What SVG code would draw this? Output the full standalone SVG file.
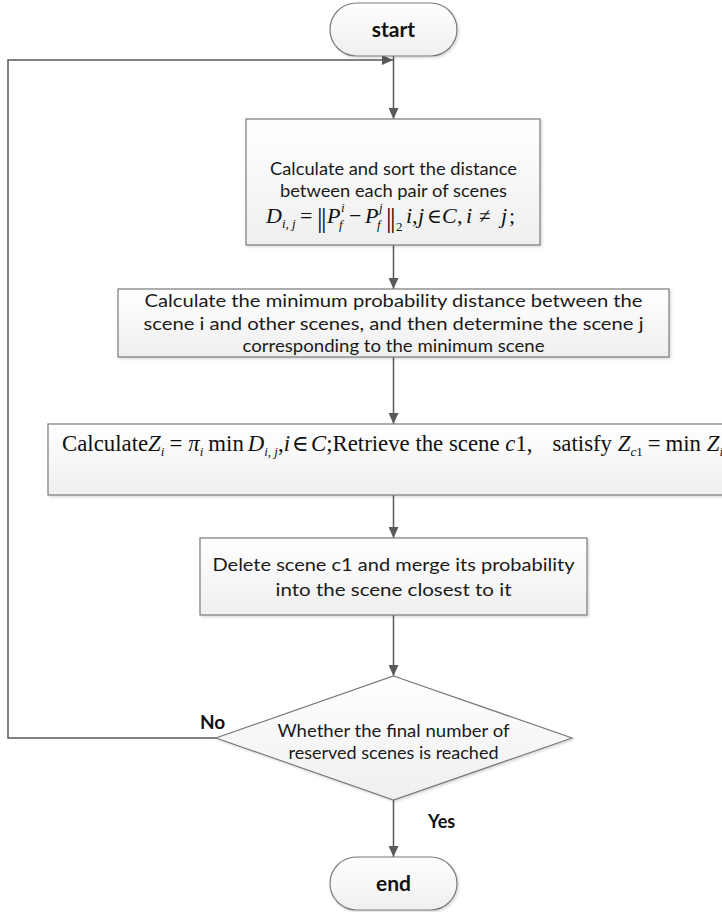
<svg xmlns="http://www.w3.org/2000/svg" width="722" height="912" viewBox="0 0 722 912">
<defs>
<linearGradient id="g" x1="0" y1="0" x2="0" y2="1"><stop offset="0" stop-color="#ffffff"/><stop offset="1" stop-color="#efefef"/></linearGradient>
<marker id="ah" markerWidth="12" markerHeight="10" refX="11" refY="5" orient="auto" markerUnits="userSpaceOnUse"><path d="M0,0 L11,5 L0,10 Z" fill="#595959"/></marker>
<filter id="sh" x="-5%" y="-5%" width="110%" height="120%"><feDropShadow dx="1.5" dy="1.5" stdDeviation="1" flood-color="#000" flood-opacity="0.15"/></filter>
</defs>
<style>
.box{fill:url(#g);stroke:#7a7a7a;stroke-width:1.2;filter:url(#sh)}
.t{font-family:Lato,"Open Sans","Liberation Sans",sans-serif;font-size:18px;fill:#1a1a1a;text-anchor:middle}
.b{font-family:Lato,"Liberation Sans",sans-serif;font-weight:bold;fill:#111}
.m{font-family:"Liberation Serif","Times New Roman","DejaVu Serif",serif;fill:#111}
.i{font-style:italic}
.c{fill:none;stroke:#595959;stroke-width:1.5}
</style>
<g id="connectors">
<path class="c" d="M393.5,56 V119" marker-end="url(#ah)"/>
<path class="c" d="M216,738 H8 V60 H393" marker-end="url(#ah)"/>
<path class="c" d="M393.5,245 V289" marker-end="url(#ah)"/>
<path class="c" d="M393.5,357 V424" marker-end="url(#ah)"/>
<path class="c" d="M393.5,495 V538" marker-end="url(#ah)"/>
<path class="c" d="M393.5,615 V676" marker-end="url(#ah)"/>
<path class="c" d="M393.5,800 V857" marker-end="url(#ah)"/>
<text class="b" x="200" y="729" font-size="19">No</text>
<text class="b" x="428" y="828" font-size="18">Yes</text>
</g>
<g id="start">
<rect class="box" x="330" y="3" width="127" height="53" rx="26.5"/>
<text class="b" x="393.5" y="37" font-size="21" text-anchor="middle">start</text>
</g>
<g id="box1">
<rect class="box" x="246" y="119" width="294" height="126"/>
<text class="t" x="393.5" y="175" textLength="247" lengthAdjust="spacingAndGlyphs">Calculate and sort the distance</text>
<text class="t" x="393.5" y="197" textLength="227" lengthAdjust="spacingAndGlyphs">between each pair of scenes</text>
<g class="m">
<text x="266" y="223" font-size="22" class="i">D</text>
<text x="282" y="228" font-size="13" class="i">i, j</text>
<text x="300" y="223" font-size="22">=</text>
<text x="317" y="227" font-size="28" letter-spacing="-1.5">||</text>
<text x="327" y="223" font-size="22" class="i">P</text>
<text x="339" y="229" font-size="13" class="i">f</text>
<text x="341" y="212" font-size="13" class="i">i</text>
<text x="349" y="223" font-size="22">−</text>
<text x="365" y="223" font-size="22" class="i">P</text>
<text x="377" y="229" font-size="13" class="i">f</text>
<text x="379" y="212" font-size="13" class="i">j</text>
<text x="386" y="227" font-size="28" letter-spacing="-1.5">||</text>
<text x="396" y="231" font-size="13">2</text>
<text x="406" y="223" font-size="22" class="i">i,</text>
<text x="418" y="223" font-size="22" class="i">j</text>
<text x="427" y="223" font-size="20">∈</text>
<text x="442" y="223" font-size="22" class="i">C</text>
<text x="457" y="223" font-size="22">,</text>
<text x="466" y="223" font-size="22" class="i">i</text>
<text x="479" y="223" font-size="21">≠</text>
<text x="501" y="223" font-size="22" class="i">j</text>
<text x="509" y="223" font-size="22">;</text>
</g>
</g>
<g id="box2">
<rect class="box" x="118" y="289" width="551" height="68"/>
<text class="t" x="393.5" y="307" textLength="498" lengthAdjust="spacingAndGlyphs">Calculate the minimum probability distance between the</text>
<text class="t" x="393.5" y="330" textLength="500" lengthAdjust="spacingAndGlyphs">scene i and other scenes, and then determine the scene j</text>
<text class="t" x="393.5" y="352" textLength="302" lengthAdjust="spacingAndGlyphs">corresponding to the minimum scene</text>
</g>
<g id="box3">
<rect class="box" x="48" y="424" width="700" height="71"/>
<text class="m" x="62" y="451" font-size="22.8">Calculate<tspan class="i">Z</tspan><tspan font-size="13" dy="5" class="i">i</tspan><tspan dy="-5" dx="5">=</tspan><tspan dx="6" class="i">π</tspan><tspan font-size="13" dy="5" class="i">i</tspan><tspan dy="-5" dx="5">min</tspan><tspan dx="4" class="i">D</tspan><tspan font-size="13" dy="5" class="i">i, j</tspan><tspan dy="-5">,</tspan><tspan class="i">i</tspan><tspan dx="2">∈</tspan><tspan dx="2" class="i">C</tspan><tspan>;Retrieve the scene </tspan><tspan class="i">c</tspan><tspan>1,</tspan><tspan dx="20">satisfy </tspan><tspan class="i">Z</tspan><tspan font-size="13" dy="5"><tspan class="i">c</tspan>1</tspan><tspan dy="-5" dx="5">=</tspan><tspan dx="5">min </tspan><tspan class="i">Z</tspan><tspan font-size="13" dy="5" class="i">i</tspan></text>
</g>
<g id="box4">
<rect class="box" x="200" y="538" width="387" height="77"/>
<text class="t" x="393.5" y="571" textLength="362" lengthAdjust="spacingAndGlyphs">Delete scene c1 and merge its probability</text>
<text class="t" x="393.5" y="596" textLength="236" lengthAdjust="spacingAndGlyphs">into the scene closest to it</text>
</g>
<g id="decision">
<path class="box" d="M393.5,676 L572,738 L393.5,800 L216,738 Z"/>
<text class="t" x="393.5" y="737" textLength="232" lengthAdjust="spacingAndGlyphs">Whether the final number of</text>
<text class="t" x="393.5" y="759" textLength="210" lengthAdjust="spacingAndGlyphs">reserved scenes is reached</text>
</g>
<g id="end">
<rect class="box" x="330" y="857" width="127" height="53" rx="26.5"/>
<text class="b" x="393.5" y="891" font-size="21" text-anchor="middle">end</text>
</g>
</svg>
